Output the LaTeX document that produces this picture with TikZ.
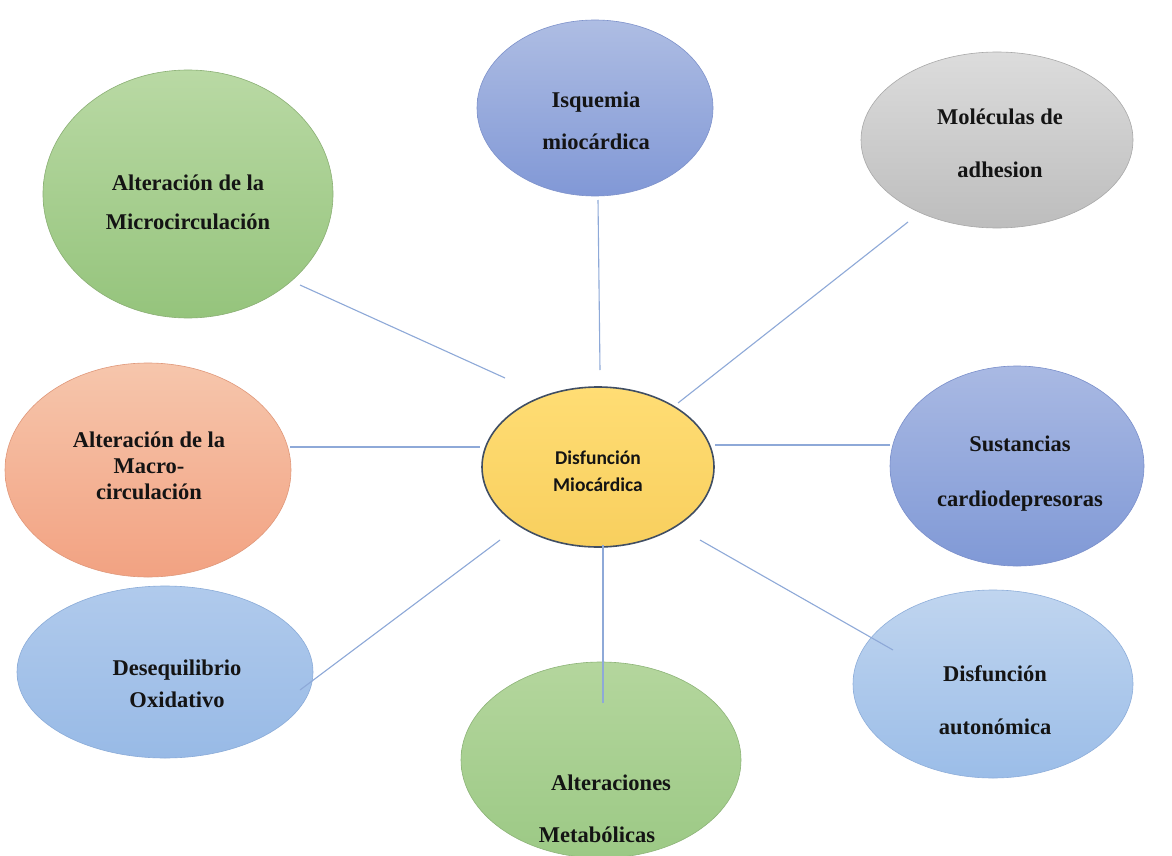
\documentclass[tikz,border=0pt]{standalone}
\usepackage{fontspec}
\setmainfont{Liberation Serif}
\newfontfamily\calfont{Carlito}
\usetikzlibrary{shapes.geometric,calc}
\definecolor{isoT}{HTML}{AEBDE3}\definecolor{isoB}{HTML}{8198D6}\definecolor{isoD}{HTML}{7E92CB}
\definecolor{molT}{HTML}{DCDCDC}\definecolor{molB}{HTML}{BDBDBD}\definecolor{molD}{HTML}{A8A8A8}
\definecolor{micT}{HTML}{B9D9A4}\definecolor{micB}{HTML}{95C47C}\definecolor{micD}{HTML}{8AAF74}
\definecolor{macT}{HTML}{F6C6AC}\definecolor{macB}{HTML}{F2A282}\definecolor{macD}{HTML}{E0987A}
\definecolor{susT}{HTML}{A9B9E3}\definecolor{susB}{HTML}{8099D6}\definecolor{susD}{HTML}{7A8FCB}
\definecolor{autT}{HTML}{C0D5EF}\definecolor{autB}{HTML}{9BBDE8}\definecolor{autD}{HTML}{8EAEDA}
\definecolor{metT}{HTML}{B4D69D}\definecolor{metB}{HTML}{9CC985}\definecolor{metD}{HTML}{8DB478}
\definecolor{desT}{HTML}{B0CAEC}\definecolor{desB}{HTML}{98BAE6}\definecolor{desD}{HTML}{8AABD8}
\definecolor{cenT}{HTML}{FFDD74}\definecolor{cenB}{HTML}{F8CF5E}\definecolor{cenD}{HTML}{404E63}
\definecolor{conncol}{HTML}{8EA9D8}
\definecolor{txt}{HTML}{141414}
\begin{document}
\begin{tikzpicture}[x=1pt,y=-1pt,
  oval/.style={ellipse, inner sep=0pt, outer sep=0pt, line width=0.6pt},
  lbl/.style={font=\fontsize{22.5}{#1}\selectfont\bfseries, text=txt, align=center, inner sep=0pt},
  clbl/.style={font=\calfont\fontsize{19.5}{#1}\selectfont\bfseries, text=txt, align=center, inner sep=0pt},
  conn/.style={draw=conncol, line width=1.1pt}]
\useasboundingbox[fill=white] (0,0) rectangle (1172,856);

% ellipses
\node[oval, minimum width=236pt, minimum height=176pt, top color=isoT, bottom color=isoB, draw=isoD] (iso) at (595,108) {};
\node[oval, minimum width=272pt, minimum height=176pt, top color=molT, bottom color=molB, draw=molD] (mol) at (997,140) {};
\node[oval, minimum width=290pt, minimum height=248pt, top color=micT, bottom color=micB, draw=micD] (mic) at (188,194) {};
\node[oval, minimum width=286pt, minimum height=214pt, top color=macT, bottom color=macB, draw=macD] (mac) at (148,470) {};
\node[oval, minimum width=254pt, minimum height=200pt, top color=susT, bottom color=susB, draw=susD] (sus) at (1017,466) {};
\node[oval, minimum width=280pt, minimum height=188pt, top color=autT, bottom color=autB, draw=autD] (aut) at (993,684) {};
\node[oval, minimum width=280pt, minimum height=196pt, top color=metT, bottom color=metB, draw=metD] (met) at (601,760) {};
\node[oval, minimum width=296pt, minimum height=172pt, top color=desT, bottom color=desB, draw=desD] (des) at (165,672) {};
\node[oval, minimum width=232pt, minimum height=160pt, top color=cenT, bottom color=cenB, draw=cenD, line width=1.6pt] (cen) at (598,467) {};

% connectors
\draw[conn] ($(iso)+(3,92)$) -- ($(cen)+(2,-97)$);
\draw[conn] ($(mol)+(-89,82)$) -- ($(cen)+(80,-64)$);
\draw[conn] ($(mic)+(112,91)$) -- ($(cen)+(-93,-89)$);
\draw[conn] ($(mac)+(142,-23)$) -- ($(cen)+(-118,-20)$);
\draw[conn] ($(sus)+(-127,-21)$) -- ($(cen)+(117,-22)$);
\draw[conn] ($(des)+(135,18)$) -- ($(cen)+(-98,73)$);
\draw[conn] ($(met)+(2,-57)$) -- ($(cen)+(5,78)$);
\draw[conn] ($(aut)+(-100,-34)$) -- ($(cen)+(102,73)$);

% labels
\node[lbl=42pt] (isoL) at (596,121) {Isquemia\\miocárdica};
\node[lbl=53pt] (molL) at (1000,143) {Moléculas de\\adhesion};
\node[lbl=39pt] (micL) at (188,202) {Alteración de la\\Microcirculación};
\node[lbl=26pt] (macL) at (149,466) {Alteración de la\\Macro-\\circulación};
\node[clbl=27pt] (cenL) at (598,471) {Disfunción\\Miocárdica};
\node[lbl=55pt] (susL) at (1020,474) {Sustancias\\cardiodepresoras};
\node[lbl=53pt] (autL) at (995,700) {Disfunción\\autonómica};
\node[lbl=26pt] (metL1) at (611,783) {Alteraciones};
\node[lbl=26pt] (metL2) at (597,835) {Metabólicas};
\node[lbl=32pt] (desL) at (177,684) {Desequilibrio\\Oxidativo};
\end{tikzpicture}
\end{document}
